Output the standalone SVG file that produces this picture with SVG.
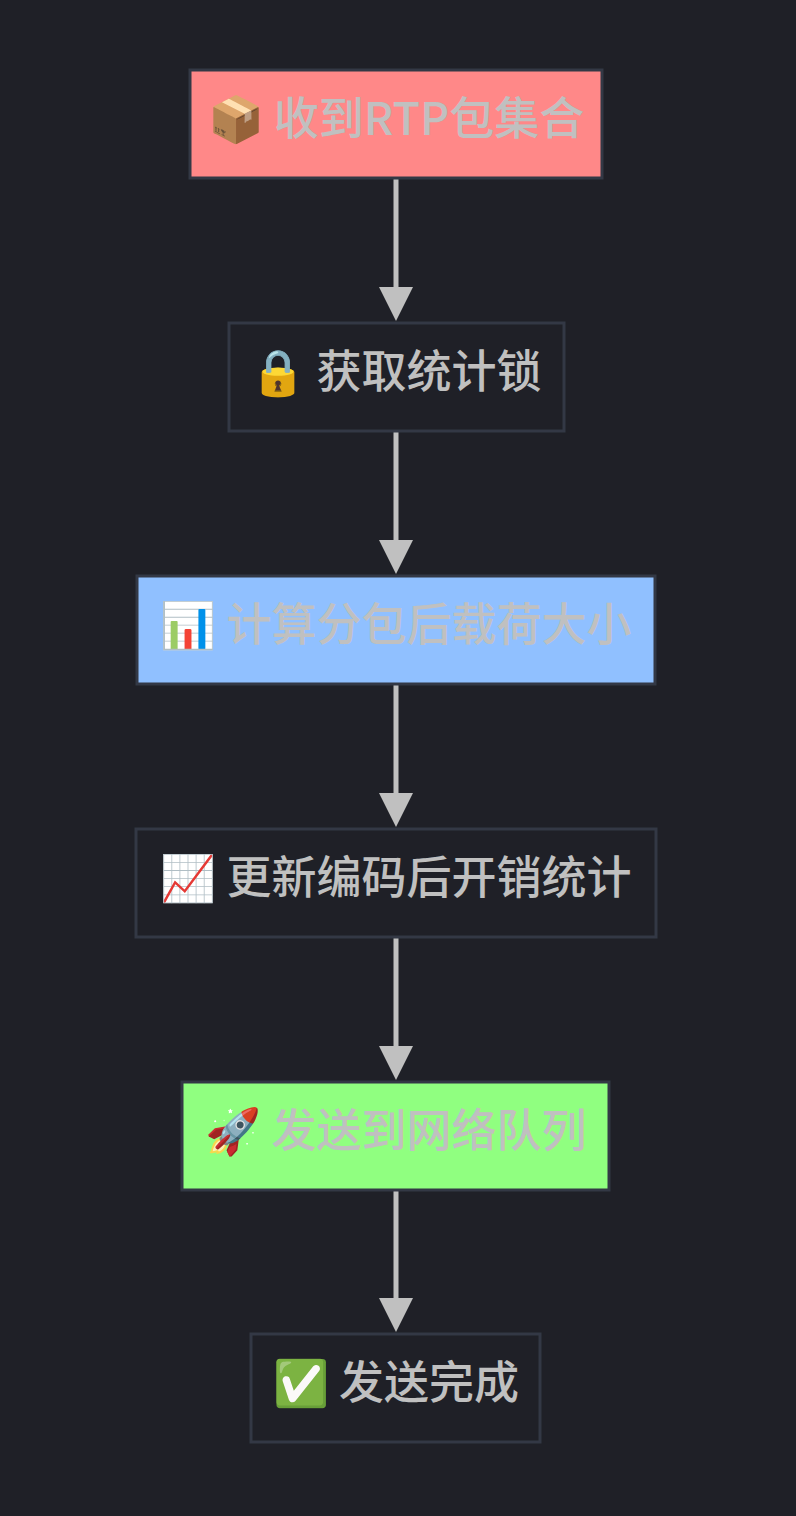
<svg xmlns="http://www.w3.org/2000/svg" width="796" height="1516" viewBox="0 0 796 1516">
<style>
.n{stroke:#333845;stroke-width:3}
.t{font-family:"Noto Sans CJK SC","Noto Sans",sans-serif;font-size:45px;font-weight:500;fill:#c0c0c0;text-anchor:middle}
.e{stroke:#c0c0c0;stroke-width:5;fill:none}
</style>
<rect width="796" height="1516" fill="#1f2027"/>
<g id="edges">
<line class="e" x1="396" y1="179" x2="396" y2="290"/><path d="M379,287 L413,287 L396,321 Z" fill="#c0c0c0"/>
<line class="e" x1="396" y1="432" x2="396" y2="543"/><path d="M379,540 L413,540 L396,574 Z" fill="#c0c0c0"/>
<line class="e" x1="396" y1="685" x2="396" y2="796"/><path d="M379,793 L413,793 L396,827 Z" fill="#c0c0c0"/>
<line class="e" x1="396" y1="938" x2="396" y2="1049"/><path d="M379,1046 L413,1046 L396,1080 Z" fill="#c0c0c0"/>
<line class="e" x1="396" y1="1191" x2="396" y2="1301"/><path d="M379,1298 L413,1298 L396,1332 Z" fill="#c0c0c0"/>
</g>
<g id="n1"><rect class="n" x="190" y="70" width="412" height="108" fill="#ff8888"/><text class="t" x="396" y="135">📦 收到RTP包集合</text></g>
<g id="n2"><rect class="n" x="229" y="323" width="335" height="108" fill="#1f2027"/><text class="t" x="396" y="388">🔒 获取统计锁</text></g>
<g id="n3"><rect class="n" x="137" y="576" width="518" height="108" fill="#90c0ff"/><text class="t" x="396" y="641">📊 计算分包后载荷大小</text></g>
<g id="n4"><rect class="n" x="136" y="829" width="520" height="108" fill="#1f2027"/><text class="t" x="396" y="894">📈 更新编码后开销统计</text></g>
<g id="n5"><rect class="n" x="182" y="1082" width="427" height="108" fill="#90ff80"/><text class="t" x="396" y="1147">🚀 发送到网络队列</text></g>
<g id="n6"><rect class="n" x="251" y="1334" width="289" height="108" fill="#1f2027"/><text class="t" x="396" y="1399">✅ 发送完成</text></g>
</svg>
